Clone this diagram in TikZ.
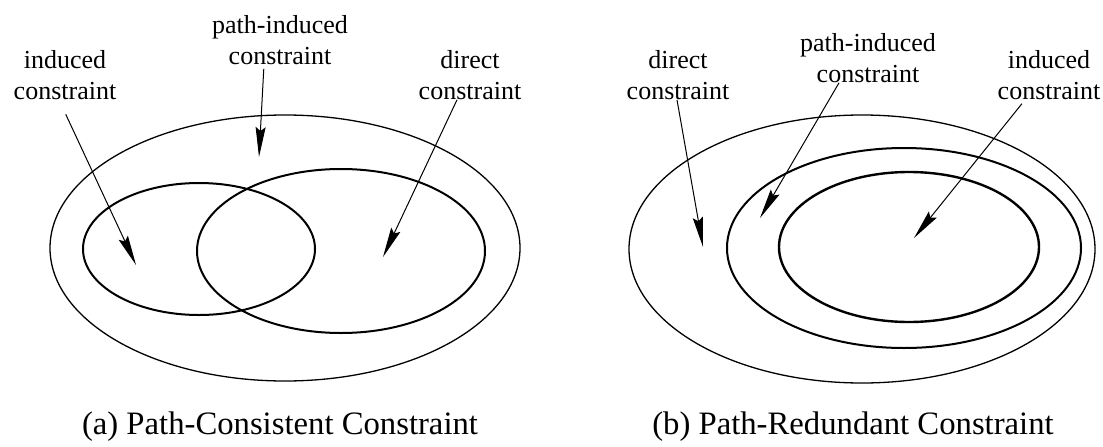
\documentclass[tikz,border=0pt]{standalone}
\usepackage{fontspec}
\setmainfont{Liberation Serif}
\usetikzlibrary{arrows.meta}

\begin{document}
\begin{tikzpicture}[x=1pt,y=-1pt,
    lbl/.style={align=center,inner sep=0pt,font=\fontsize{26}{31}\selectfont},
    captxt/.style={inner sep=0pt,font=\fontsize{32.7}{36}\selectfont},
    arr/.style={-{Stealth[length=30pt,width=10pt,inset=4pt]},line width=1pt},
    lnthin/.style={line width=1.3pt},
    lnthick/.style={line width=2pt}]
  \useasboundingbox (0,0) rectangle (1103,447);
  % (a) path-consistent
  \draw[lnthin] (285,248) ellipse [x radius=235,y radius=133];
  \draw[lnthick] (199,249) ellipse [x radius=116,y radius=66];
  \draw[lnthick] (341,251) ellipse [x radius=144,y radius=82];
  \node[lbl] (a-ind) at (65,75) {induced\\constraint};
  \node[lbl] (a-path) at (280,40) {path-induced\\constraint};
  \node[lbl] (a-dir) at (470,75) {direct\\constraint};
  \coordinate (a-ind-tip) at (136,265);
  \coordinate (a-path-tip) at (259,157);
  \coordinate (a-dir-tip) at (383,257);
  \draw[arr,shorten <=16pt] ([xshift=-6pt]a-ind.south) -- (a-ind-tip);
  \draw[arr,shorten <=4pt] ([xshift=-16pt]a-path.south) -- (a-path-tip);
  \draw[arr] ([xshift=-13pt]a-dir.south) -- (a-dir-tip);
  \node[captxt] (a-cap) at (280,427) {(a) Path-Consistent Constraint};
  % (b) path-redundant
  \draw[lnthin] (862,249) ellipse [x radius=233,y radius=134];
  \draw[lnthick] (904,248) ellipse [x radius=177,y radius=100];
  \draw[line width=2.4pt] (909,247) ellipse [x radius=130,y radius=75];
  \node[lbl] (b-dir) at (678,75) {direct\\constraint};
  \node[lbl] (b-path) at (868,58) {path-induced\\constraint};
  \node[lbl] (b-ind) at (1049,75) {induced\\constraint};
  \coordinate (b-dir-tip) at (703,247);
  \coordinate (b-path-tip) at (760,218);
  \coordinate (b-ind-tip) at (914,238);
  \draw[arr] ([xshift=-1pt]b-dir.south) -- (b-dir-tip);
  \draw[arr] ([xshift=-29pt]b-path.south) -- (b-path-tip);
  \draw[arr,shorten <=5pt] ([xshift=-24pt]b-ind.south) -- (b-ind-tip);
  \node[captxt] (b-cap) at (853,427) {(b) Path-Redundant Constraint};
\end{tikzpicture}
\end{document}
